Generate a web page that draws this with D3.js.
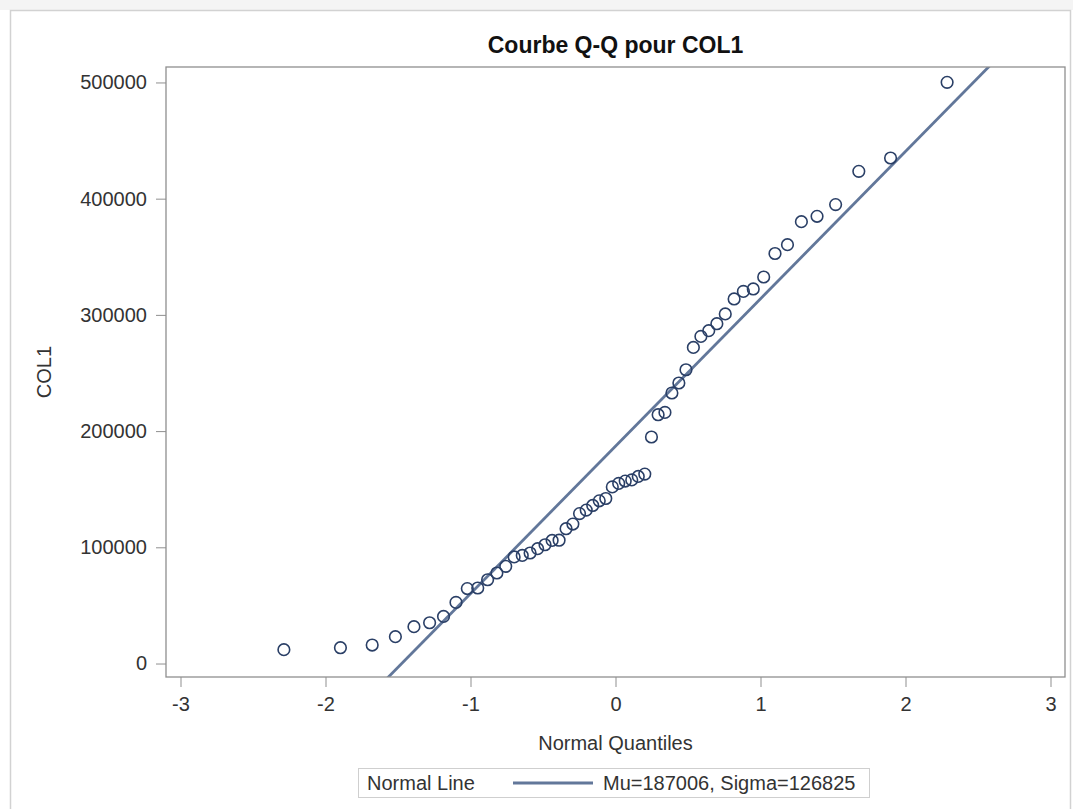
<!DOCTYPE html>
<html>
  <head>
    <meta charset="UTF-8">
    <title>Courbe Q-Q pour COL1</title>
    <script src="https://d3js.org/d3.v7.min.js"></script>
    <style>
      body { margin: 0; background: #fff; }
      text { font-family: "Liberation Sans", Arial, sans-serif; }
    </style>
  </head>
  <body>
    <div id="chart-container"></div>
  <script type="text/javascript">

    // Normal quantiles (x) and sorted COL1 values (y)
    const quantiles = [-2.287, -1.897, -1.678, -1.518, -1.390, -1.282, -1.186, -1.100, -1.022, -0.950,
                       -0.882, -0.818, -0.757, -0.699, -0.643, -0.589, -0.537, -0.486, -0.437, -0.389,
                       -0.341, -0.294, -0.248, -0.202, -0.157, -0.112, -0.067, -0.022, 0.022, 0.067,
                       0.112, 0.157, 0.202, 0.248, 0.294, 0.341, 0.389, 0.437, 0.486, 0.537,
                       0.589, 0.643, 0.699, 0.757, 0.818, 0.882, 0.950, 1.022, 1.100, 1.186,
                       1.282, 1.390, 1.518, 1.678, 1.897, 2.287];
    const col1 = [11900, 13600, 15900, 23100, 31700, 35100, 40500, 52600, 64500, 65000,
                  72100, 77900, 83600, 91700, 93000, 95100, 98800, 102200, 105900, 106100,
                  116000, 120000, 129000, 132000, 136000, 140000, 142000, 152000, 155000, 157000,
                  158000, 161000, 163000, 194900, 214100, 216100, 232800, 241400, 252800, 272000,
                  281500, 286400, 292400, 300800, 313700, 320200, 322300, 332600, 352800, 360400,
                  380200, 384800, 394900, 423500, 435000, 500100];

    // Normal line parameters (from the legend)
    const mu = 187006;
    const sigma = 126825;

    const xTicks = [-3, -2, -1, 0, 1, 2, 3];
    const yTicks = [0, 100000, 200000, 300000, 400000, 500000];

    const width = 1073;
    const height = 809;
    const margin = ({top: 67, right: 8, bottom: 132, left: 166});

    const x = d3.scaleLinear()
        .domain([-3.1, 3.1])
        .range([margin.left, width - margin.right]);

    const y = d3.scaleLinear()
        .domain([-11600, 513300])
        .range([height - margin.bottom, margin.top]);

    const axisColor = "#8f8f8f";
    const textColor = "#333";

    const svg = d3.select("#chart-container")
        .append("svg")
        .attr("width", width)
        .attr("height", height);

    // outer panel border
    svg.append("rect")
        .attr("x", 0).attr("y", 0).attr("width", width).attr("height", 10)
        .attr("fill", "#f4f4f4");
    svg.append("rect")
        .attr("x", 10.5).attr("y", 10.5).attr("width", 1060).attr("height", 820)
        .attr("fill", "#fff")
        .attr("stroke", "#d2d2d2")
        .attr("stroke-width", 1.5);

    // title
    svg.append("text")
        .attr("x", (x.range()[0] + x.range()[1]) / 2)
        .attr("y", 53)
        .attr("text-anchor", "middle")
        .attr("font-size", 23)
        .attr("font-weight", "bold")
        .attr("fill", "#111")
        .text("Courbe Q-Q pour COL1");

    // axes
    const xAxis = g => g
        .attr("transform", `translate(0,${height - margin.bottom})`)
        .call(d3.axisBottom(x).tickValues(xTicks).tickSize(10).tickPadding(10).tickFormat(d3.format("d")))
        .call(g => g.select(".domain").remove())
        .call(g => g.selectAll("line").attr("stroke", axisColor))
        .call(g => g.selectAll("text").attr("font-size", 20).attr("fill", textColor)
            .text(d => d < 0 ? "-" + Math.abs(d) : d));

    const yAxis = g => g
        .attr("transform", `translate(${margin.left},0)`)
        .call(d3.axisLeft(y).tickValues(yTicks).tickSize(10).tickPadding(9).tickFormat(d3.format("d")))
        .call(g => g.select(".domain").remove())
        .call(g => g.selectAll("line").attr("stroke", axisColor))
        .call(g => g.selectAll("text").attr("font-size", 20).attr("fill", textColor));

    svg.append("g").call(xAxis);
    svg.append("g").call(yAxis);

    // axis labels
    svg.append("text")
        .attr("x", (x.range()[0] + x.range()[1]) / 2)
        .attr("y", 750)
        .attr("text-anchor", "middle")
        .attr("font-size", 20)
        .attr("fill", textColor)
        .text("Normal Quantiles");

    svg.append("text")
        .attr("transform", `translate(51,${(y.range()[0] + y.range()[1]) / 2}) rotate(-90)`)
        .attr("text-anchor", "middle")
        .attr("font-size", 20)
        .attr("fill", textColor)
        .text("COL1");

    // plot area clip
    svg.append("clipPath").attr("id", "plot-clip")
        .append("rect")
        .attr("x", x.range()[0]).attr("y", y.range()[1])
        .attr("width", x.range()[1] - x.range()[0])
        .attr("height", y.range()[0] - y.range()[1]);

    // normal line y = mu + sigma * q
    const lineColor = "#62779a";
    svg.append("line")
        .attr("clip-path", "url(#plot-clip)")
        .attr("x1", x(x.domain()[0])).attr("y1", y(mu + sigma * x.domain()[0]))
        .attr("x2", x(x.domain()[1])).attr("y2", y(mu + sigma * x.domain()[1]))
        .attr("stroke", lineColor)
        .attr("stroke-width", 2.8);

    // points
    svg.append("g")
        .selectAll("circle")
        .data(quantiles.map((q, i) => ({q: q, v: col1[i]})))
        .join("circle")
        .attr("cx", d => x(d.q))
        .attr("cy", d => y(d.v))
        .attr("r", 5.8)
        .attr("fill", "none")
        .attr("stroke", "#2a3f66")
        .attr("stroke-width", 1.6);

    // frame
    svg.append("rect")
        .attr("x", x.range()[0]).attr("y", y.range()[1])
        .attr("width", x.range()[1] - x.range()[0])
        .attr("height", y.range()[0] - y.range()[1])
        .attr("fill", "none")
        .attr("stroke", axisColor)
        .attr("stroke-width", 1.3);

    // legend
    const legend = svg.append("g").attr("transform", "translate(358,768)");
    legend.append("rect")
        .attr("x", 0.5).attr("y", 0.5).attr("width", 511).attr("height", 29)
        .attr("fill", "#fff")
        .attr("stroke", "#cfcfcf");
    legend.append("text")
        .attr("x", 9).attr("y", 22)
        .attr("font-size", 20).attr("fill", textColor)
        .text("Normal Line");
    legend.append("line")
        .attr("x1", 155).attr("x2", 235).attr("y1", 15).attr("y2", 15)
        .attr("stroke", lineColor).attr("stroke-width", 2.8);
    legend.append("text")
        .attr("x", 245).attr("y", 22)
        .attr("font-size", 20).attr("fill", textColor)
        .text(`Mu=${mu}, Sigma=${sigma}`);
  </script>
  </body>
</html>
